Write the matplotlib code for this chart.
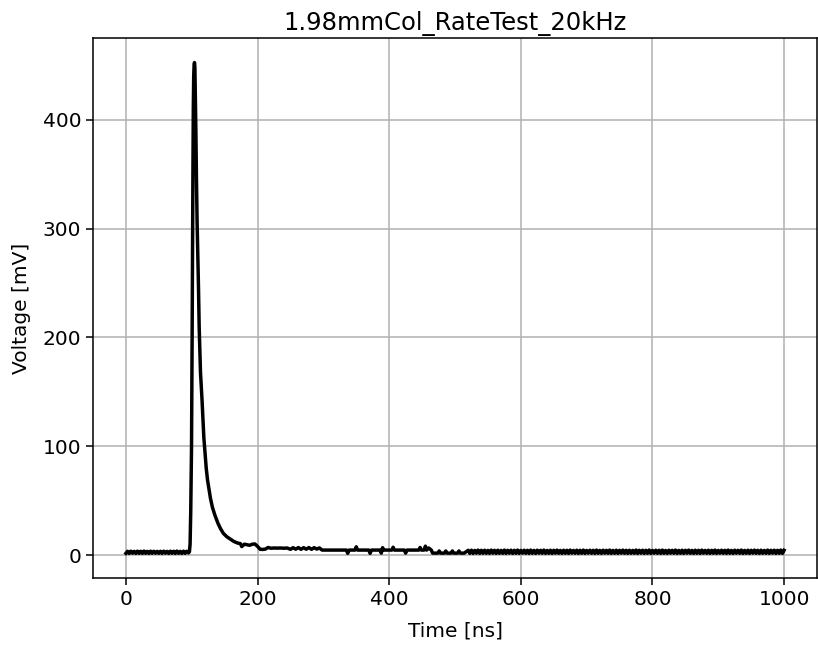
import numpy as np
import matplotlib
matplotlib.use("Agg")
import matplotlib.pyplot as plt

# ---- data ----
# pre-pulse baseline, sampled every 2.5 ns from 0 to 95 ns
pre_t = np.arange(0, 95.1, 2.5)
pre_v = [1.6, 3.5, 1.5, 3.6, 1.7, 3.4, 1.5, 3.6, 1.6, 3.5,
         1.5, 3.7, 1.6, 3.4, 1.5, 3.6, 1.6, 3.5, 1.7, 3.4,
         1.6, 3.5, 1.5, 3.6, 1.7, 3.4, 1.5, 3.6, 1.6, 3.5,
         1.5, 3.7, 1.6, 3.4, 1.5, 3.6, 1.6, 3.5, 2.0]

# pulse: rise, peak and decay
pulse_t = [96.5, 97.5, 98.5, 99.2, 99.7, 100.2, 100.6, 101.2, 101.8, 102.4,
           103.0, 103.6, 104.2, 104.8, 105.6, 106.3, 107.2, 108.2, 109.3,
           110.3, 111.3, 112.3, 113.3, 114.5, 115.7, 117.0, 118.4, 120.0,
           122.0, 124.0, 126.4, 128.5, 131.4, 135.0, 140.0, 144.0, 148.0,
           153.0, 158.0, 164.0, 170.0]
pulse_v = [3.0, 10.0, 40.0, 75.0, 100.0, 150.0, 200.0, 280.0, 350.0, 410.0,
           440.0, 450.0, 452.5, 448.0, 420.0, 390.0, 345.0, 305.0, 275.0,
           245.0, 210.0, 188.0, 168.0, 155.0, 142.0, 126.0, 108.0, 96.0,
           80.0, 69.0, 60.0, 52.0, 44.0, 37.0, 29.0, 24.0, 20.0,
           17.0, 15.0, 12.5, 11.0]

# tail and plateau (~170-295 ns)
tail_t = [174, 176, 180, 184, 188, 192, 196, 200, 204, 208, 212, 216, 220,
          225, 230, 235, 240, 245, 250, 254, 258, 262, 266, 270, 274, 278,
          282, 286, 290, 294]
tail_v = [10.5, 7.8, 10.0, 9.5, 9.0, 10.0, 10.2, 8.0, 5.3, 5.2, 5.5, 7.0, 6.3,
          6.5, 6.4, 6.5, 6.3, 6.5, 5.3, 6.8, 5.4, 6.9, 5.3, 6.8, 5.4, 6.9,
          5.3, 6.8, 5.5, 6.6]

# flat section with isolated glitches (~296-515 ns)
mid_t = [298, 335, 337, 339, 348, 350, 352, 369, 371, 373, 386, 388, 390,
         392, 404, 406, 408, 423, 425, 427, 445, 447, 449, 453, 455, 457,
         460, 464, 466, 474, 476, 478, 484, 486, 488, 494, 496, 498, 504,
         506, 508, 514]
mid_v = [4.6, 4.6, 1.6, 4.6, 4.6, 7.6, 4.6, 4.6, 1.6, 4.6, 4.6, 1.8, 6.8,
         4.6, 4.6, 7.2, 4.6, 4.6, 1.8, 4.6, 4.6, 7.0, 4.6, 4.6, 8.2, 4.6,
         6.5, 4.6, 1.8, 1.8, 3.8, 1.8, 1.8, 3.8, 1.8, 1.8, 3.8, 1.8, 1.8,
         3.8, 1.8, 1.8]

# late baseline, sampled every 2.5 ns from 520 to 1000 ns
post_t = np.arange(520, 1000.1, 2.5)
post_v = [4.4, 1.6, 4.5, 1.5, 4.3, 1.7, 4.6, 1.5, 4.4, 1.6,
          4.5, 1.6, 4.3, 1.5, 4.6, 1.7, 4.4, 1.5, 4.5, 1.6,
          4.3, 1.6, 4.6, 1.5, 4.4, 1.7, 4.5, 1.5, 4.4, 1.6,
          4.6, 1.5, 4.3, 1.7, 4.5, 1.6, 4.4, 1.5, 4.6, 1.6,
          4.3, 1.5, 4.5, 1.7, 4.4, 1.6, 4.6, 1.5, 4.3, 1.6,
          4.5, 1.5, 4.4, 1.7, 4.6, 1.6, 4.3, 1.5, 4.5, 1.6,
          4.4, 1.5, 4.6, 1.7, 4.3, 1.6, 4.5, 1.5, 4.4, 1.6,
          4.6, 1.5, 4.3, 1.7, 4.5, 1.6, 4.4, 1.5, 4.6, 1.6,
          4.3, 1.5, 4.5, 1.7, 4.4, 1.6, 4.6, 1.5, 4.3, 1.6,
          4.5, 1.5, 4.4, 1.7, 4.6, 1.6, 4.4, 1.5, 4.5, 1.6,
          4.3, 1.6, 4.6, 1.5, 4.4, 1.7, 4.5, 1.5, 4.4, 1.6,
          4.6, 1.5, 4.3, 1.7, 4.5, 1.6, 4.4, 1.5, 4.6, 1.6,
          4.3, 1.5, 4.5, 1.7, 4.4, 1.6, 4.6, 1.5, 4.3, 1.6,
          4.5, 1.5, 4.4, 1.7, 4.6, 1.6, 4.3, 1.5, 4.5, 1.6,
          4.4, 1.5, 4.6, 1.7, 4.3, 1.6, 4.5, 1.5, 4.4, 1.6,
          4.6, 1.5, 4.3, 1.7, 4.5, 1.6, 4.4, 1.5, 4.6, 1.6,
          4.3, 1.5, 4.5, 1.7, 4.4, 1.6, 4.6, 1.5, 4.3, 1.6,
          4.5, 1.5, 4.4, 1.7, 4.6, 1.6, 4.4, 1.5, 4.5, 1.6,
          4.3, 1.6, 4.6, 1.5, 4.4, 1.7, 4.5, 1.5, 4.4, 1.6,
          4.6, 1.5, 4.4]

title = "1.98mmCol_RateTest_20kHz"
xlabel = "Time [ns]"
ylabel = "Voltage [mV]"
x_ticks = [0, 200, 400, 600, 800, 1000]
y_ticks = [0, 100, 200, 300, 400]

t = np.concatenate([pre_t, pulse_t, tail_t, mid_t, post_t])
v = np.concatenate([pre_v, pulse_v, tail_v, mid_v, post_v])

# ---- plot ----
fig = plt.figure(figsize=(8.18, 6.46), dpi=100)
ax = fig.add_axes([93 / 818, 68 / 646, 724 / 818, 540 / 646])
ax.plot(t, v, color="black", lw=2.5)
ax.grid(True, color="#b0b0b0", lw=1.1)
ax.set_axisbelow(True)
ax.set_xticks(x_ticks)
ax.set_yticks(y_ticks)
ax.tick_params(labelsize=14.5, length=5, width=1.1)
for s in ax.spines.values():
    s.set_linewidth(1.1)
ax.set_xlabel(xlabel, fontsize=14.5, labelpad=9)
ax.set_ylabel(ylabel, fontsize=14.5, labelpad=8)
ax.set_title(title, fontsize=17.5)
fig.savefig("out.png", dpi=100)
